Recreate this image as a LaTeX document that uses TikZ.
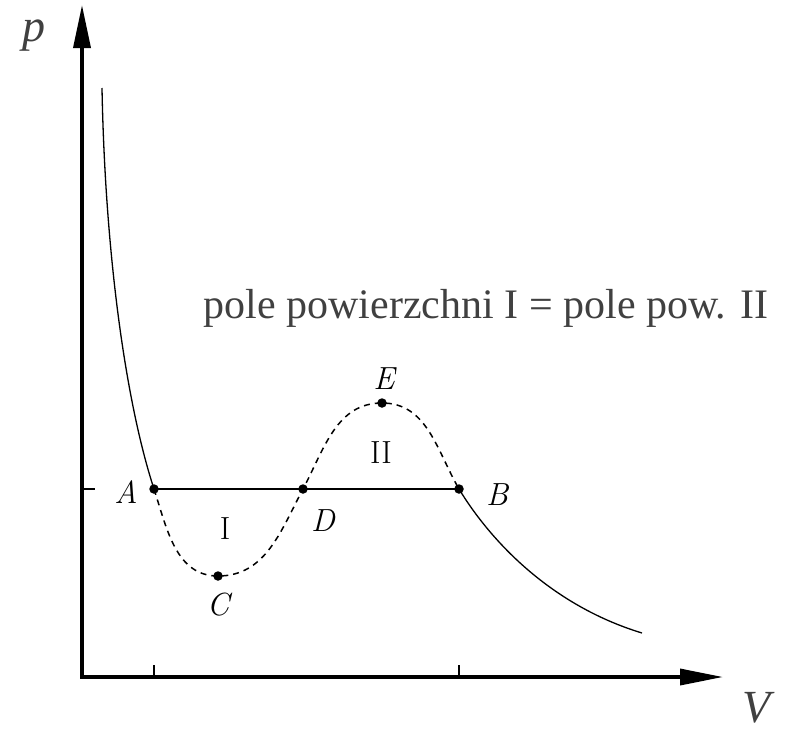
\documentclass[tikz,border=0pt]{standalone}
\usepackage{fontspec}
\newfontfamily\timesf{Liberation Serif}
\usetikzlibrary{arrows.meta}
\definecolor{txtgray}{RGB}{64,64,64}
\begin{document}
\begin{tikzpicture}[x=1pt,y=-1pt,
  axis/.style={line width=3.5pt,line join=miter},
  thin/.style={line width=1.3pt},
  dashcurve/.style={line width=1.5pt,dash pattern=on 6pt off 5pt},
  dot/.style={circle,fill=black,inner sep=0pt,minimum size=9.5pt},
  lbl/.style={inner sep=0pt,font=\fontsize{32}{38}\selectfont},
  big/.style={inner sep=0pt,text=txtgray,font=\timesf\fontsize{42}{50}\selectfont},
  axlbl/.style={inner sep=0pt,text=txtgray,font=\timesf\itshape\fontsize{46}{55}\selectfont}]
\useasboundingbox (0,0) rectangle (791,731);
% axes
\coordinate (O) at (82,677);
\coordinate (ytop) at (82,5);
\coordinate (xend) at (723,677);
\draw[axis,{Triangle[length=43pt,width=17pt]}-{Triangle[length=43pt,width=16pt]}] (ytop) -- (O) -- (xend);
\node[axlbl] (plbl) at (34,36) {p};
\node[axlbl] (vlbl) at (757,708) {V};
% points
\coordinate (A) at (154,489);
\coordinate (C) at (218,576);
\coordinate (D) at (303,489);
\coordinate (E) at (382,403);
\coordinate (B) at (459,489);
\coordinate (L0) at (102,88);
\coordinate (R1) at (642,633);
% ticks
\coordinate (tA) at (154,665);
\coordinate (tAb) at (154,677);
\coordinate (tB) at (459,665);
\coordinate (tBb) at (459,677);
\coordinate (ty) at (95,489);
\coordinate (tyb) at (82,489);
\draw[thin] (tA) -- (tAb);
\draw[thin] (tB) -- (tBb);
\draw[thin] (tyb) -- (ty);
% curves
\draw[thin] (L0) .. controls (105,250) and (125,400) .. (A);
\draw[thin] (B) .. controls (490,540) and (550,605) .. (R1);
\draw[dashcurve] (A) to[out=-72,in=180] (C) to[out=0,in=-118] (D) to[out=62,in=180] (E) to[out=0,in=120] (B);
\draw[thin] (A) -- (B);
% dots
\foreach \p in {A,B,C,D,E} \node[dot] at (\p) {};
% labels
\node[lbl] (la) at (126,492) {\itshape A};
\node[lbl] (lb) at (497,495) {\itshape B};
\node[lbl] (lc) at (218,605) {\itshape C};
\node[lbl] (ld) at (323,521) {\itshape D};
\node[lbl] (le) at (384,379) {\itshape E};
\node[lbl] (l1) at (225,529) {I};
\node[lbl] (l2) at (381,453) {II};
\node[big,anchor=base] (title) at (486,318) {pole powierzchni I = pole pow. II};
\end{tikzpicture}
\end{document}
